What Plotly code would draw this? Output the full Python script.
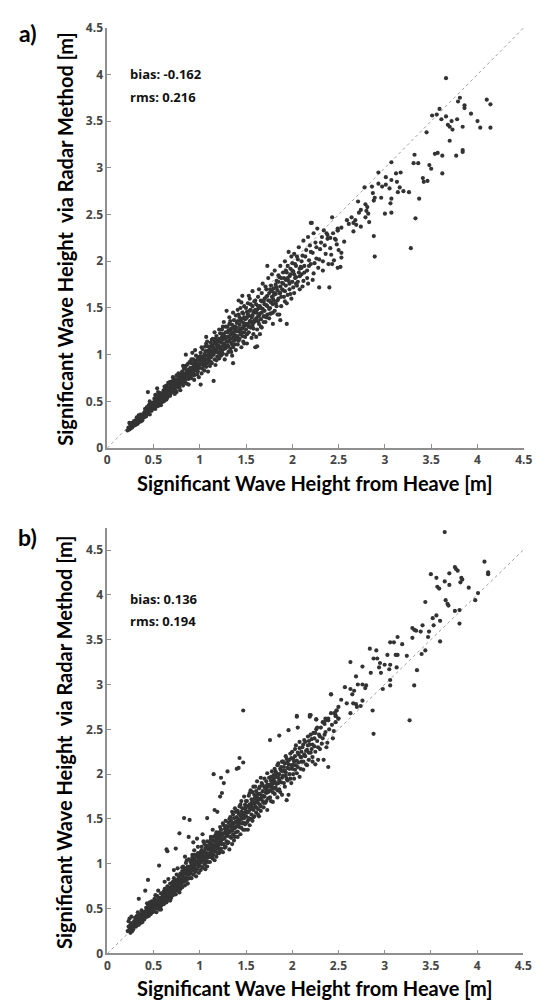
import plotly.graph_objects as go

# ---------------- data: (Hs from heave [m], Hs via radar [m]) ----------------
# Panel a) dense band, low range
a_band_low = [
 (0.22,0.19),(0.23,0.22),(0.24,0.20),(0.25,0.25),(0.25,0.21),(0.26,0.23),(0.27,0.27),(0.27,0.22),(0.28,0.25),(0.29,0.29),(0.29,0.24),(0.24,0.27),
 (0.30,0.26),(0.31,0.30),(0.31,0.27),(0.32,0.33),(0.32,0.29),(0.33,0.31),(0.33,0.26),(0.34,0.35),(0.34,0.30),(0.35,0.28),(0.35,0.33),(0.36,0.31),(0.36,0.36),(0.37,0.34),(0.37,0.29),(0.38,0.36),(0.38,0.32),(0.39,0.35),
 (0.40,0.33),(0.40,0.38),(0.41,0.42),(0.41,0.36),(0.42,0.39),(0.42,0.34),(0.43,0.44),(0.43,0.40),(0.44,0.37),(0.44,0.42),(0.45,0.46),(0.45,0.39),(0.46,0.41),(0.46,0.36),(0.47,0.44),(0.47,0.48),(0.48,0.40),(0.48,0.45),(0.49,0.42),(0.49,0.47),(0.44,0.60),(0.46,0.50),
 (0.50,0.44),(0.50,0.49),(0.51,0.53),(0.51,0.46),(0.52,0.50),(0.52,0.42),(0.53,0.55),(0.53,0.48),(0.54,0.64),(0.54,0.51),(0.55,0.45),(0.55,0.53),(0.56,0.57),(0.56,0.50),(0.57,0.47),(0.57,0.54),(0.58,0.59),(0.58,0.52),(0.59,0.49),(0.59,0.56),(0.55,0.60),(0.52,0.57),(0.58,0.46),(0.54,0.47),
 (0.60,0.53),(0.60,0.58),(0.61,0.62),(0.61,0.55),(0.62,0.60),(0.62,0.51),(0.63,0.64),(0.63,0.57),(0.64,0.59),(0.64,0.67),(0.65,0.54),(0.65,0.61),(0.66,0.63),(0.66,0.57),(0.67,0.69),(0.67,0.60),(0.68,0.65),(0.68,0.56),(0.69,0.62),(0.69,0.67),(0.62,0.66),(0.64,0.52),(0.66,0.70),(0.68,0.71),(0.61,0.50),(0.65,0.65),
 (0.70,0.64),(0.70,0.69),(0.71,0.72),(0.71,0.61),(0.72,0.67),(0.72,0.75),(0.73,0.63),(0.73,0.70),(0.74,0.66),(0.74,0.73),(0.75,0.78),(0.75,0.60),(0.76,0.69),(0.76,0.74),(0.77,0.65),(0.77,0.71),(0.78,0.76),(0.78,0.68),(0.79,0.62),(0.79,0.73),(0.71,0.76),(0.73,0.58),(0.75,0.71),(0.77,0.80),(0.79,0.79),(0.74,0.69),
]
# Panel a) dense band, middle range
a_band_mid = [
 (0.80,0.70),(0.80,0.77),(0.81,0.82),(0.81,0.73),(0.82,0.79),(0.82,0.67),(0.83,0.85),(0.83,0.75),(0.84,0.80),(0.84,0.72),(0.85,0.88),(0.85,1.00),(0.85,0.77),(0.86,0.83),(0.86,0.69),(0.87,0.79),(0.87,0.90),(0.88,0.74),(0.88,0.84),(0.89,0.81),(0.89,0.92),(0.82,0.88),(0.86,0.76),(0.88,0.68),
 (0.90,0.78),(0.90,0.86),(0.91,0.91),(0.91,0.75),(0.92,0.84),(0.92,1.02),(0.93,0.80),(0.93,0.95),(0.94,0.88),(0.94,0.73),(0.95,0.92),(0.95,0.83),(0.96,0.99),(0.96,0.87),(0.97,0.79),(0.97,0.94),(0.98,0.90),(0.98,0.82),(0.99,0.97),(0.99,0.76),(0.93,0.87),(0.96,0.93),
 (1.00,0.86),(1.00,0.94),(1.01,1.02),(1.01,0.68),(1.02,0.90),(1.02,0.80),(1.03,0.97),(1.03,1.06),(1.04,0.88),(1.04,0.93),(1.05,1.00),(1.05,0.83),(1.06,1.09),(1.06,0.95),(1.07,0.87),(1.07,1.12),(1.08,0.99),(1.08,0.91),(1.09,1.04),(1.09,0.82),(1.05,0.92),(1.07,1.19),
 (1.10,0.94),(1.10,1.01),(1.11,1.08),(1.11,0.88),(1.12,1.13),(1.12,0.97),(1.13,1.04),(1.13,0.91),(1.14,1.17),(1.14,1.00),(1.15,0.72),(1.15,1.07),(1.16,0.95),(1.16,1.12),(1.17,1.03),(1.17,0.89),(1.18,1.20),(1.18,1.06),(1.19,0.98),(1.19,1.14),(1.12,1.04),(1.16,1.24),
 (1.20,1.02),(1.20,1.10),(1.21,1.17),(1.21,0.96),(1.22,1.23),(1.22,1.06),(1.23,1.13),(1.23,0.99),(1.24,1.27),(1.24,1.09),(1.25,1.16),(1.25,1.01),(1.26,1.21),(1.26,1.12),(1.27,0.95),(1.27,1.19),(1.28,1.07),(1.28,1.30),(1.29,1.14),(1.29,1.47),(1.23,1.04),(1.26,1.35),
 (1.30,1.10),(1.30,1.19),(1.31,1.26),(1.31,1.03),(1.32,1.15),(1.32,1.33),(1.33,1.21),(1.33,1.06),(1.34,1.28),(1.34,1.13),(1.35,1.24),(1.35,0.99),(1.36,1.18),(1.36,0.91),(1.37,1.37),(1.37,1.22),(1.38,1.11),(1.38,1.30),(1.39,1.16),(1.39,1.42),(1.33,1.36),(1.36,1.08),
 (1.40,1.20),(1.40,1.29),(1.41,1.36),(1.41,1.11),(1.42,1.25),(1.42,1.43),(1.43,1.17),(1.43,1.32),(1.44,1.50),(1.44,1.22),(1.45,1.38),(1.45,1.08),(1.46,1.28),(1.46,1.45),(1.47,1.14),(1.47,1.34),(1.48,1.24),(1.48,1.52),(1.49,1.31),(1.49,1.19),(1.42,1.58),(1.46,1.63),
]
# Panel a) dense band, upper range
a_band_high = [
 (1.50,1.27),(1.50,1.39),(1.51,1.46),(1.51,1.12),(1.52,1.33),(1.52,1.55),(1.53,1.24),(1.53,1.42),(1.54,1.36),(1.54,1.60),(1.55,1.29),(1.55,1.48),(1.56,1.18),(1.56,1.40),(1.57,1.52),(1.57,1.31),(1.58,1.45),(1.58,1.22),(1.59,1.37),(1.59,1.57),
 (1.60,1.36),(1.60,1.08),(1.61,1.45),(1.61,1.54),(1.62,1.27),(1.62,1.09),(1.63,1.41),(1.63,1.62),(1.64,1.33),(1.64,1.50),(1.65,1.22),(1.65,1.44),(1.66,1.58),(1.66,1.38),(1.67,1.66),(1.67,1.29),(1.68,1.49),(1.69,1.41),
 (1.70,1.47),(1.70,1.60),(1.71,1.35),(1.72,1.53),(1.72,1.70),(1.73,1.43),(1.73,1.95),(1.74,1.58),(1.75,1.39),(1.75,1.66),(1.76,1.50),(1.77,1.74),(1.77,1.44),(1.78,1.62),(1.79,1.54),(1.79,1.33),
 (1.80,1.58),(1.80,1.71),(1.81,1.47),(1.82,1.65),(1.83,1.79),(1.83,1.52),(1.84,1.69),(1.85,1.60),(1.86,1.83),(1.86,1.43),(1.87,1.37),(1.87,1.73),(1.88,1.62),(1.89,1.77),
 (1.90,1.69),(1.91,1.82),(1.92,1.57),(1.93,1.74),(1.94,1.33),(1.94,1.88),(1.95,1.64),(1.96,2.10),(1.96,1.79),(1.97,1.70),(1.98,1.92),(1.99,1.60),
 (2.00,1.78),(2.01,1.89),(2.02,1.66),(2.03,1.97),(2.04,1.83),(2.05,1.74),(2.06,2.02),(2.07,1.88),(2.08,1.70),(2.09,1.94),
 (2.10,1.86),(2.11,2.06),(2.12,1.79),(2.13,1.95),(2.15,2.12),(2.16,1.90),(2.17,1.76),(2.18,2.01),(2.19,2.17),
 (2.20,1.97),(2.21,2.41),(2.22,2.09),(2.23,1.87),(2.25,2.20),(2.26,2.03),(2.28,1.93),(2.29,1.72),
 (2.30,2.13),(2.32,2.26),(2.33,2.00),(2.35,2.17),(2.37,2.30),(2.39,1.97),
 (2.40,1.72),(2.42,2.07),(2.43,1.97),(2.46,2.24),(2.49,2.33),(2.52,1.94),(2.49,1.93),(2.53,2.04),
]
# Panel a) further points read from the dark core of the band
a_band_fill = [
 (0.31,0.25),(0.33,0.28),(0.36,0.33),(0.38,0.30),(0.41,0.39),(0.43,0.37),(0.45,0.43),(0.47,0.41),(0.50,0.47),(0.52,0.45),(0.53,0.51),(0.56,0.53),(0.57,0.50),(0.60,0.55),(0.61,0.59),(0.63,0.55),(0.65,0.58),(0.67,0.63),(0.69,0.59),(0.70,0.66),(0.72,0.64),(0.74,0.62),(0.76,0.72),(0.78,0.65),(0.79,0.70),
 (0.81,0.76),(0.83,0.70),(0.84,0.86),(0.87,0.82),(0.89,0.77),(0.90,0.82),(0.91,0.95),(0.92,0.79),(0.94,0.91),(0.95,1.05),(0.97,0.85),(0.98,0.96),(1.00,0.90),(1.01,0.98),(1.02,1.08),(1.03,0.85),(1.04,0.98),(1.06,0.90),(1.07,1.04),(1.08,1.14),
 (1.10,0.98),(1.11,1.05),(1.12,0.92),(1.13,1.16),(1.14,1.09),(1.15,1.00),(1.17,1.17),(1.18,0.94),(1.19,1.09),(1.20,1.15),(1.21,1.27),(1.22,1.01),(1.24,1.19),(1.25,1.30),(1.26,1.06),(1.28,1.24),(1.29,1.00),
 (1.30,1.30),(1.31,1.14),(1.32,1.40),(1.33,1.26),(1.34,1.03),(1.35,1.32),(1.36,1.45),(1.37,1.15),(1.38,1.26),(1.39,1.05),(1.40,1.34),(1.41,1.48),(1.42,1.15),(1.43,1.40),(1.44,1.28),(1.45,1.56),(1.46,1.20),(1.47,1.44),(1.48,1.12),(1.49,1.38),
 (1.50,1.50),(1.51,1.22),(1.52,1.43),(1.53,1.63),(1.54,1.30),(1.55,1.54),(1.56,1.34),(1.57,1.68),(1.58,1.28),(1.59,1.47),(1.60,1.58),(1.61,1.19),(1.62,1.48),(1.63,1.36),(1.64,1.70),(1.65,1.52),(1.66,1.30),(1.67,1.57),(1.68,1.76),(1.69,1.35),
 (1.70,1.54),(1.71,1.73),(1.72,1.40),(1.73,1.63),(1.74,1.82),(1.75,1.49),(1.76,1.70),(1.77,1.56),(1.78,1.86),(1.79,1.45),(1.80,1.64),(1.81,1.90),(1.82,1.55),(1.83,1.72),(1.84,1.43),(1.85,1.85),(1.86,1.66),(1.87,1.95),(1.88,1.52),(1.89,1.70),
 (1.90,1.88),(1.91,1.62),(1.92,2.00),(1.93,1.80),(1.94,1.55),(1.95,1.95),(1.97,1.84),(1.98,1.65),(1.99,2.05),(2.00,1.90),(2.01,1.72),(2.02,2.08),(2.03,1.82),(2.04,1.95),(2.06,1.78),(2.07,2.15),(2.08,1.92),
 (2.10,2.00),(2.11,1.73),(2.12,2.22),(2.13,1.88),(2.14,2.05),(2.16,1.82),(2.17,2.26),(2.18,1.95),(2.20,2.10),(2.22,1.80),(2.23,2.30),(2.24,1.98),(2.26,2.15),(2.27,2.35),(2.29,2.02),
 (2.31,2.20),(2.33,1.90),(2.34,2.33),(2.36,2.08),(2.38,2.24),(2.41,2.14),(2.44,2.30),(2.45,2.01),
]
# Panel a) more points along the centre line of the band
a_band_core = [
 (0.42,0.40),(0.48,0.43),(0.51,0.48),(0.55,0.50),(0.58,0.55),(0.62,0.57),(0.64,0.61),(0.67,0.58),(0.70,0.62),(0.71,0.68),(0.73,0.66),(0.75,0.68),(0.77,0.74),(0.78,0.71),(0.80,0.74),(0.82,0.73),(0.83,0.78),(0.85,0.74),(0.86,0.80),(0.88,0.78),
 (0.90,0.84),(0.91,0.80),(0.93,0.84),(0.94,0.78),(0.95,0.87),(0.97,0.90),(0.99,0.86),(1.00,0.98),(1.02,0.95),(1.03,0.91),(1.05,0.96),(1.06,1.03),(1.08,0.95),(1.09,1.09),(1.10,1.05),(1.12,1.00),(1.13,1.10),(1.15,1.04),(1.16,1.15),(1.18,1.11),
 (1.19,1.03),(1.21,1.08),(1.22,1.14),(1.24,1.04),(1.25,1.22),(1.27,1.10),(1.28,1.17),(1.30,1.24),(1.31,1.09),(1.33,1.17),(1.34,1.22),(1.35,1.11),(1.37,1.29),(1.38,1.20),(1.40,1.25),(1.41,1.19),(1.43,1.26),(1.44,1.36),(1.45,1.24),(1.47,1.30),
 (1.48,1.40),(1.50,1.33),(1.51,1.40),(1.53,1.30),(1.54,1.47),(1.55,1.36),(1.57,1.42),(1.58,1.34),(1.60,1.48),(1.61,1.39),(1.63,1.52),(1.64,1.42),(1.66,1.50),(1.67,1.45),(1.69,1.57),(1.70,1.41),(1.72,1.62),(1.73,1.52),(1.75,1.58),(1.76,1.44),
 (1.78,1.68),(1.79,1.60),(1.81,1.66),(1.82,1.75),(1.84,1.58),(1.85,1.78),(1.87,1.66),(1.88,1.82),(1.90,1.76),(1.92,1.68),(1.93,1.90),(1.95,1.82),(1.97,1.76),(1.98,1.86),(2.00,1.98),(2.02,1.86),(2.04,1.76),(2.05,2.05),(2.08,1.84),(2.10,1.93),
]
# Panel a) scattered high-sea-state points
a_sparse = [
 (3.66,3.96),(3.81,3.75),(3.79,3.71),(3.86,3.67),(3.86,3.64),(4.10,3.73),(4.14,3.68),(4.14,3.43),(4.03,3.43),(4.00,3.50),
 (3.93,3.58),(3.59,3.63),(3.51,3.56),(3.56,3.57),(3.66,3.55),(3.61,3.52),(3.72,3.50),(3.78,3.52),(3.68,3.46),(3.70,3.44),
 (3.73,3.41),(3.84,3.44),(3.45,3.38),(3.70,3.29),(3.54,3.15),(3.57,3.16),(3.62,3.13),(3.77,3.13),(3.84,3.19),(3.84,3.17),
 (3.62,2.94),(3.32,3.14),(3.31,3.05),(3.36,3.05),(3.48,3.03),(3.50,2.99),(3.41,2.89),(3.42,2.85),(3.46,2.86),(3.37,2.67),
 (3.33,2.46),(3.28,2.14),(3.07,3.06),(3.12,2.94),(3.17,2.95),(2.93,2.95),(3.01,2.90),(3.07,2.87),(3.13,2.85),(3.16,2.79),
 (3.20,2.75),(3.26,2.74),(3.14,2.74),(2.86,2.80),(2.93,2.83),(2.97,2.80),(3.01,2.82),(3.05,2.78),(2.78,2.79),(2.87,2.73),
 (2.96,2.68),(2.88,2.65),(2.89,2.68),(3.07,2.67),(3.06,2.62),(3.07,2.52),(3.00,2.51),(2.88,2.27),(2.89,2.05),(2.71,2.64),
 (2.79,2.61),(2.81,2.58),(2.80,2.54),(2.82,2.51),(2.74,2.55),(2.79,2.47),(2.83,2.42),(2.72,2.52),(2.43,2.47),(2.20,2.41),
 (2.59,2.44),(2.64,2.47),(2.66,2.41),(2.69,2.39),(2.61,2.40),(2.68,2.44),(2.49,2.35),(2.53,2.36),(2.49,2.33),(2.66,2.32),
 (2.74,2.37),(2.38,2.28),(2.41,2.25),(2.56,2.21),(2.47,2.23),(2.48,2.18),(2.50,2.12),(2.53,2.09),
]

# Panel b) dense band, low range
b_band_low = [
 (0.22,0.25),(0.23,0.30),(0.23,0.36),(0.24,0.27),(0.25,0.32),(0.25,0.23),(0.26,0.29),(0.26,0.41),(0.27,0.34),(0.28,0.27),(0.28,0.31),(0.29,0.36),(0.24,0.39),(0.27,0.25),
 (0.30,0.33),(0.30,0.40),(0.31,0.36),(0.31,0.30),(0.32,0.42),(0.32,0.35),(0.33,0.38),(0.33,0.46),(0.34,0.32),(0.34,0.40),(0.35,0.37),(0.35,0.44),(0.36,0.34),(0.36,0.41),(0.37,0.48),(0.37,0.38),(0.38,0.43),(0.38,0.35),(0.39,0.40),(0.39,0.46),(0.34,0.61),
 (0.40,0.43),(0.40,0.38),(0.41,0.47),(0.41,0.70),(0.42,0.44),(0.42,0.51),(0.43,0.41),(0.43,0.48),(0.44,0.54),(0.44,0.82),(0.44,0.45),(0.45,0.50),(0.45,0.42),(0.46,0.57),(0.46,0.47),(0.47,0.53),(0.47,0.44),(0.48,0.49),(0.48,0.58),(0.49,0.46),(0.49,0.52),(0.43,0.56),
 (0.50,0.52),(0.50,0.47),(0.51,0.56),(0.51,0.61),(0.52,0.50),(0.52,0.54),(0.53,0.59),(0.53,0.46),(0.54,0.56),(0.54,0.64),(0.55,0.52),(0.55,0.60),(0.56,0.98),(0.56,0.55),(0.56,0.49),(0.57,0.62),(0.57,0.57),(0.58,0.53),(0.58,0.67),(0.59,0.60),(0.59,0.55),(0.52,0.65),(0.55,0.70),(0.58,0.49),
 (0.60,0.58),(0.60,0.64),(0.61,0.69),(0.61,0.55),(0.62,0.62),(0.62,0.72),(0.63,0.59),(0.63,0.66),(0.64,0.70),(0.64,0.57),(0.64,1.16),(0.65,0.63),(0.65,1.14),(0.65,0.75),(0.66,0.67),(0.66,0.60),(0.67,0.72),(0.67,0.64),(0.68,0.78),(0.68,0.69),(0.69,0.62),(0.69,0.74),(0.62,0.80),(0.66,0.83),(0.68,0.59),
 (0.70,0.68),(0.70,0.75),(0.71,0.80),(0.71,0.65),(0.72,0.72),(0.72,0.84),(0.73,0.69),(0.73,0.77),(0.74,1.17),(0.74,0.81),(0.74,0.66),(0.75,0.74),(0.75,0.88),(0.76,0.78),(0.76,0.70),(0.77,0.84),(0.77,0.75),(0.78,1.34),(0.78,0.80),(0.78,0.68),(0.79,0.89),(0.79,0.77),(0.72,0.93),(0.76,0.95),(0.79,0.72),
]
# Panel b) dense band, middle range
b_band_mid = [
 (0.80,0.78),(0.80,0.86),(0.81,0.92),(0.81,0.74),(0.82,0.83),(0.82,0.97),(0.83,1.51),(0.83,0.80),(0.83,0.89),(0.84,0.76),(0.84,0.94),(0.85,0.85),(0.85,1.01),(0.86,0.82),(0.86,0.90),(0.87,0.97),(0.87,0.78),(0.88,1.30),(0.88,0.88),(0.88,1.05),(0.89,0.93),(0.89,1.49),(0.89,0.84),(0.84,1.08),
 (0.90,0.89),(0.90,0.97),(0.91,1.04),(0.91,0.84),(0.92,0.93),(0.92,1.10),(0.93,0.88),(0.93,1.00),(0.94,0.96),(0.94,1.15),(0.95,0.91),(0.95,1.03),(0.96,0.86),(0.96,0.99),(0.97,1.08),(0.97,0.94),(0.98,1.19),(0.98,1.01),(0.99,0.90),(0.99,1.06),(0.93,1.24),(0.97,1.28),
 (1.00,0.98),(1.00,1.06),(1.01,1.13),(1.01,0.93),(1.02,1.02),(1.02,1.19),(1.03,0.96),(1.03,1.09),(1.04,1.05),(1.04,1.25),(1.05,0.99),(1.05,1.14),(1.06,1.08),(1.06,0.94),(1.07,1.20),(1.07,1.03),(1.08,1.51),(1.08,1.11),(1.08,0.97),(1.09,1.16),(1.09,1.07),(1.03,1.33),
 (1.10,1.09),(1.10,1.17),(1.11,1.24),(1.11,1.02),(1.12,1.13),(1.12,1.30),(1.13,1.07),(1.13,1.20),(1.14,1.16),(1.14,1.38),(1.15,2.00),(1.15,1.10),(1.15,1.26),(1.16,1.60),(1.16,1.19),(1.16,1.04),(1.17,1.32),(1.17,1.14),(1.18,1.22),(1.18,1.08),(1.19,1.58),(1.19,1.28),(1.19,1.17),
 (1.20,1.20),(1.20,1.28),(1.21,1.35),(1.21,1.12),(1.22,1.75),(1.22,1.24),(1.22,1.41),(1.23,1.96),(1.23,1.17),(1.23,1.31),(1.24,1.79),(1.24,1.27),(1.25,1.45),(1.25,1.13),(1.26,1.90),(1.26,1.34),(1.26,1.22),(1.27,1.39),(1.27,1.29),(1.28,1.19),(1.28,1.48),(1.29,1.33),(1.29,1.25),
 (1.30,2.03),(1.30,1.31),(1.30,1.39),(1.31,1.46),(1.31,1.24),(1.32,1.16),(1.32,1.35),(1.33,1.52),(1.33,1.42),(1.34,1.29),(1.34,1.48),(1.35,1.37),(1.35,1.58),(1.36,1.33),(1.36,1.44),(1.37,1.26),(1.37,1.51),(1.38,1.40),(1.38,1.62),(1.39,1.35),(1.39,1.47),(1.40,2.06),
 (1.40,1.42),(1.40,1.52),(1.41,1.59),(1.41,1.36),(1.42,2.07),(1.42,1.48),(1.43,2.18),(1.43,1.64),(1.43,1.41),(1.44,1.54),(1.44,1.33),(1.45,1.70),(1.45,1.50),(1.46,1.45),(1.46,1.62),(1.47,2.71),(1.47,2.13),(1.47,1.38),(1.47,1.57),(1.48,1.75),(1.48,1.51),(1.49,1.44),(1.49,1.66),
]
# Panel b) dense band, upper range
b_band_high = [
 (1.50,1.53),(1.50,1.63),(1.51,1.70),(1.51,1.46),(1.52,1.38),(1.52,1.58),(1.53,1.76),(1.53,1.51),(1.54,1.66),(1.54,1.43),(1.55,1.82),(1.55,1.61),(1.56,1.55),(1.56,1.72),(1.57,1.48),(1.57,1.67),(1.58,1.86),(1.58,1.60),(1.59,1.53),(1.59,1.77),
 (1.60,1.64),(1.60,1.74),(1.61,1.81),(1.61,1.57),(1.62,1.69),(1.62,1.92),(1.63,1.61),(1.63,1.78),(1.64,1.53),(1.64,1.72),(1.65,1.86),(1.65,1.66),(1.66,1.96),(1.66,1.59),(1.67,1.76),(1.68,1.70),(1.68,1.88),(1.69,1.63),
 (1.70,1.75),(1.70,1.85),(1.71,1.68),(1.72,1.92),(1.72,1.79),(1.73,1.60),(1.73,2.01),(1.74,1.73),(1.75,1.88),(1.76,2.38),(1.76,1.82),(1.77,1.70),(1.77,1.97),(1.78,1.85),(1.79,1.69),(1.79,1.91),
 (1.80,1.84),(1.80,1.95),(1.81,1.78),(1.82,2.03),(1.83,1.89),(1.84,1.74),(1.84,2.10),(1.85,1.96),(1.86,2.43),(1.86,1.83),(1.87,2.06),(1.88,1.91),(1.89,1.77),(1.89,2.14),
 (1.90,1.98),(1.91,2.08),(1.92,1.86),(1.93,2.02),(1.94,1.71),(1.94,2.17),(1.95,1.93),(1.96,1.77),(1.96,2.49),(1.96,2.11),(1.97,2.00),(1.98,2.23),(1.99,1.90),
 (2.00,2.06),(2.01,2.17),(2.02,1.95),(2.03,2.28),(2.04,2.10),(2.05,2.65),(2.05,2.01),(2.06,2.52),(2.06,2.24),(2.07,2.13),(2.08,1.97),(2.09,2.19),
 (2.10,2.14),(2.11,2.30),(2.12,2.05),(2.13,2.22),(2.14,2.36),(2.15,2.11),(2.16,2.27),(2.17,2.42),(2.18,2.16),(2.19,2.64),(2.19,2.33),
 (2.20,2.66),(2.20,2.24),(2.21,2.39),(2.22,2.19),(2.23,2.46),(2.24,2.31),(2.25,2.11),(2.26,2.61),(2.26,2.50),(2.27,2.37),(2.28,2.16),(2.29,2.44),
 (2.30,2.28),(2.31,2.52),(2.33,2.40),(2.34,2.16),(2.35,2.56),(2.36,2.47),(2.36,2.62),(2.38,2.35),(2.39,2.08),(2.39,2.60),
 (2.42,2.89),(2.43,2.55),(2.45,2.48),(2.47,2.65),(2.48,2.71),(2.46,2.68),(2.50,2.62),(2.47,2.58),
]
# Panel b) further points read from the dark core of the band
b_band_fill = [
 (0.26,0.33),(0.29,0.30),(0.31,0.39),(0.33,0.34),(0.35,0.41),(0.37,0.36),(0.38,0.45),(0.40,0.46),(0.42,0.41),(0.44,0.49),(0.45,0.55),(0.47,0.48),(0.49,0.55),(0.50,0.58),(0.52,0.57),(0.53,0.52),
 (0.55,0.57),(0.57,0.52),(0.58,0.61),(0.60,0.67),(0.61,0.62),(0.63,0.71),(0.64,0.64),(0.66,0.71),(0.67,0.67),(0.69,0.78),(0.70,0.71),(0.72,0.78),(0.73,0.73),(0.75,0.80),(0.77,0.71),(0.78,0.86),
 (0.80,0.82),(0.81,0.96),(0.82,0.88),(0.84,0.82),(0.85,0.95),(0.86,1.04),(0.87,0.88),(0.88,0.96),(0.90,1.02),(0.91,0.92),(0.92,1.07),(0.93,0.95),(0.94,1.02),(0.95,1.10),(0.96,0.93),(0.97,1.03),(0.98,1.12),(0.99,0.97),
 (1.00,1.10),(1.01,1.02),(1.02,1.15),(1.03,1.04),(1.04,1.12),(1.05,1.22),(1.06,1.01),(1.07,1.12),(1.08,1.25),(1.09,1.02),(1.10,1.21),(1.11,1.12),(1.12,1.27),(1.13,1.15),(1.14,1.06),(1.15,1.30),(1.16,1.14),(1.17,1.25),(1.18,1.35),(1.19,1.12),
 (1.20,1.32),(1.21,1.22),(1.22,1.15),(1.23,1.38),(1.24,1.22),(1.25,1.33),(1.26,1.43),(1.27,1.18),(1.28,1.36),(1.29,1.42),(1.30,1.23),(1.31,1.35),(1.32,1.50),(1.33,1.30),(1.34,1.41),(1.35,1.22),(1.36,1.55),(1.37,1.40),(1.38,1.30),(1.39,1.58),
 (1.40,1.47),(1.41,1.30),(1.42,1.56),(1.43,1.46),(1.44,1.66),(1.45,1.40),(1.46,1.54),(1.47,1.46),(1.48,1.62),(1.49,1.38),
 (1.50,1.70),(1.51,1.57),(1.52,1.48),(1.53,1.65),(1.54,1.79),(1.55,1.50),(1.56,1.64),(1.57,1.80),(1.58,1.52),(1.59,1.68),(1.60,1.86),(1.61,1.63),(1.62,1.76),(1.63,1.55),(1.64,1.84),(1.65,1.72),(1.66,1.64),(1.67,1.90),(1.68,1.76),(1.69,1.68),
 (1.70,1.95),(1.71,1.80),(1.72,1.70),(1.73,1.88),(1.74,1.80),(1.75,1.96),(1.76,1.74),(1.77,1.89),(1.78,2.03),(1.79,1.80),(1.80,1.90),(1.81,2.06),(1.82,1.85),(1.83,1.97),(1.84,1.82),(1.85,2.12),(1.86,1.93),(1.87,1.80),(1.88,2.04),(1.89,1.96),
 (1.90,2.14),(1.91,1.90),(1.92,2.04),(1.93,2.20),(1.94,1.95),(1.95,2.07),(1.97,2.16),(1.98,1.95),(1.99,2.10),(2.00,2.25),(2.01,2.00),(2.02,2.14),(2.03,2.05),(2.04,2.32),(2.06,2.08),(2.07,2.22),(2.08,2.36),(2.09,2.06),
 (2.10,2.25),(2.12,2.14),(2.13,2.38),(2.14,2.20),(2.16,2.10),(2.17,2.32),(2.18,2.24),(2.20,2.44),(2.21,2.28),(2.22,2.14),(2.24,2.40),(2.25,2.25),(2.27,2.52),(2.28,2.30),
 (2.30,2.42),(2.32,2.34),(2.33,2.58),(2.35,2.44),(2.37,2.30),(2.40,2.50),(2.42,2.68),(2.44,2.40),
]
# Panel b) more points along the centre line of the band
b_band_core = [
 (0.42,0.47),(0.46,0.52),(0.51,0.52),(0.54,0.59),(0.57,0.60),(0.60,0.62),(0.62,0.66),(0.64,0.68),(0.66,0.65),(0.68,0.73),(0.70,0.73),(0.71,0.77),(0.73,0.80),(0.74,0.76),(0.76,0.82),(0.78,0.77),(0.79,0.84),(0.81,0.86),(0.82,0.80),(0.84,0.89),
 (0.85,0.92),(0.87,0.93),(0.88,0.92),(0.90,0.94),(0.91,0.99),(0.93,0.97),(0.94,1.06),(0.96,1.02),(0.97,0.99),(0.99,1.09),(1.00,1.02),(1.02,1.08),(1.03,1.13),(1.05,1.07),(1.06,1.17),(1.08,1.07),(1.09,1.11),(1.11,1.18),(1.12,1.10),(1.14,1.22),
 (1.15,1.17),(1.17,1.20),(1.18,1.28),(1.20,1.24),(1.21,1.30),(1.23,1.26),(1.24,1.34),(1.26,1.28),(1.27,1.34),(1.29,1.38),(1.30,1.35),(1.32,1.42),(1.33,1.37),(1.35,1.45),(1.36,1.39),(1.38,1.46),(1.39,1.41),(1.41,1.50),(1.42,1.44),(1.44,1.50),
 (1.45,1.58),(1.47,1.52),(1.48,1.56),(1.50,1.59),(1.51,1.64),(1.53,1.58),(1.54,1.62),(1.56,1.68),(1.57,1.62),(1.59,1.72),(1.60,1.68),(1.62,1.73),(1.63,1.68),(1.65,1.78),(1.66,1.73),(1.68,1.81),(1.69,1.75),(1.71,1.86),(1.72,1.83),(1.74,1.86),
 (1.75,1.81),(1.77,1.93),(1.78,1.88),(1.80,1.99),(1.81,1.92),(1.83,2.01),(1.85,1.90),(1.86,2.00),(1.88,2.08),(1.90,2.03),(1.92,2.12),(1.93,1.98),(1.95,2.14),(1.97,2.06),(1.99,2.18),(2.01,2.10),(2.03,2.20),(2.05,2.15),(2.08,2.29),(2.10,2.19),
 (2.12,2.33),(2.15,2.26),(2.18,2.37),(2.22,2.33),(2.25,2.46),
]
# Panel b) scattered high-sea-state points
b_sparse = [
 (3.65,4.70),(4.08,4.37),(4.12,4.25),(4.12,4.23),(3.76,4.31),(3.77,4.29),(3.79,4.27),(3.70,4.24),(3.83,4.19),(3.84,4.17),
 (3.82,4.14),(3.65,4.15),(3.70,4.11),(3.57,4.09),(3.59,4.07),(3.50,4.23),(3.56,4.19),(3.91,4.08),(4.01,4.02),(3.98,3.94),
 (3.44,3.92),(3.66,3.94),(3.68,3.90),(3.69,3.88),(3.76,3.82),(3.81,3.83),(3.81,3.68),(3.52,3.74),(3.56,3.77),(3.60,3.71),
 (3.53,3.66),(3.41,3.66),(3.48,3.59),(3.47,3.53),(3.60,3.48),(3.30,3.63),(3.32,3.61),(3.34,3.60),(3.39,3.59),(3.14,3.53),
 (3.30,3.52),(3.06,3.47),(3.10,3.47),(3.19,3.45),(3.44,3.38),(3.40,3.34),(2.84,3.40),(2.91,3.38),(3.03,3.33),(3.12,3.33),
 (3.14,3.33),(2.88,3.29),(2.92,3.29),(3.24,3.32),(2.63,3.25),(2.95,3.24),(3.00,3.22),(2.94,3.19),(3.06,3.22),(3.05,3.17),
 (2.76,3.20),(3.13,3.19),(2.85,3.13),(2.96,3.13),(3.35,3.16),(2.69,3.09),(3.06,3.05),(3.06,2.99),(3.32,2.99),(2.57,2.97),
 (2.63,2.95),(2.71,3.00),(2.76,3.00),(2.80,2.99),(2.79,2.96),(2.98,2.95),(2.42,2.89),(2.65,2.89),(2.67,2.93),(2.53,2.83),
 (2.59,2.79),(2.66,2.79),(2.69,2.78),(2.76,2.82),(2.74,2.76),(2.50,2.75),(2.48,2.71),(2.46,2.68),(2.47,2.65),(2.50,2.62),
 (2.87,2.71),(2.63,2.68),(2.70,2.75),(2.05,2.64),(2.19,2.66),(2.26,2.61),(2.36,2.60),(2.39,2.62),(3.27,2.60),(2.88,2.45),
]

x_ticks = [0, 0.5, 1, 1.5, 2, 2.5, 3, 3.5, 4, 4.5]
tick_text = ["0", "0.5", "1", "1.5", "2", "2.5", "3", "3.5", "4", "4.5"]
one_to_one = [0, 4.5]
stats_a = ["bias: -0.162", "rms: 0.216"]
stats_b = ["bias: 0.136", "rms: 0.194"]
x_title = "Significant Wave Height from Heave [m]"
y_title = "Significant Wave Height\u00a0 via Radar Method [m]"

# ---------------- figure ----------------
W, H = 545, 1007
PT = "#333333"
AX = "#8f8f8f"

fig = go.Figure()

def add_panel(fig, groups, xa, ya):
    xs, ys = [], []
    for g in groups:
        for p in g:
            xs.append(p[0]); ys.append(p[1])
    fig.add_trace(go.Scatter(x=one_to_one, y=one_to_one, mode="lines",
                             line=dict(color="#a0a0a0", width=1, dash="dot"),
                             xaxis=xa, yaxis=ya, hoverinfo="skip", showlegend=False))
    fig.add_trace(go.Scatter(x=xs, y=ys, mode="markers",
                             marker=dict(color=PT, size=4.2, line=dict(width=0)),
                             xaxis=xa, yaxis=ya, showlegend=False))

add_panel(fig, [a_band_low, a_band_mid, a_band_high, a_band_fill, a_band_core, a_sparse], "x", "y")
add_panel(fig, [b_band_low, b_band_mid, b_band_high, b_band_fill, b_band_core, b_sparse], "x2", "y2")

def px_x(p): return p / W
def px_y(p): return 1 - p / H

tickfont = dict(family="Open Sans", size=12, color="#454545", weight="bold")
axis_common = dict(showline=True, linecolor=AX, linewidth=1.5, ticks="inside",
                   ticklen=4, tickwidth=1, tickcolor=AX, showgrid=False,
                   zeroline=False, tickfont=tickfont, mirror=False,
                   tickmode="array", tickvals=x_ticks, ticktext=tick_text)

fig.update_layout(
    width=W, height=H, autosize=False,
    margin=dict(l=0, r=0, t=0, b=0),
    paper_bgcolor="white", plot_bgcolor="white",
    xaxis=dict(domain=[px_x(106.5), px_x(532.5)], range=[0, 4.5], anchor="y", **axis_common),
    yaxis=dict(domain=[px_y(446.7), px_y(19)], range=[0, 4.5], anchor="x", **axis_common),
    xaxis2=dict(domain=[px_x(106.7), px_x(532.0)], range=[0, 4.5], anchor="y2", **axis_common),
    yaxis2=dict(domain=[px_y(960.7), px_y(527.5)], range=[0, 4.75], anchor="x2", **axis_common),
)

title_font = dict(family="Lato", size=20, color="#000000", weight="bold")
stat_font = dict(family="Open Sans", size=13, color="#111111", weight="bold")
label_font = dict(family="Lato", size=23, color="#000000", weight="bold")

ann = []
for yy in (482, 996):
    ann.append(dict(text=x_title, x=px_x(319), y=px_y(yy), xref="paper", yref="paper",
                    showarrow=False, font=title_font, xanchor="center", yanchor="middle"))
for yy in (234, 746):
    ann.append(dict(text=y_title, x=px_x(63), y=px_y(yy), xref="paper", yref="paper",
                    showarrow=False, font=title_font, textangle=-90, xanchor="center", yanchor="middle"))
ann.append(dict(text="a)", x=px_x(14), y=px_y(24), xref="paper", yref="paper",
                showarrow=False, font=label_font, xanchor="left", yanchor="middle"))
ann.append(dict(text="b)", x=px_x(13), y=px_y(537), xref="paper", yref="paper",
                showarrow=False, font=label_font, xanchor="left", yanchor="middle"))
for i, s in enumerate(stats_a):
    ann.append(dict(text=s, x=px_x(128), y=px_y(66 + 24 * i), xref="paper", yref="paper",
                    showarrow=False, font=stat_font, xanchor="left", yanchor="middle"))
for i, s in enumerate(stats_b):
    ann.append(dict(text=s, x=px_x(128), y=px_y(600 + 23 * i), xref="paper", yref="paper",
                    showarrow=False, font=stat_font, xanchor="left", yanchor="middle"))
fig.update_layout(annotations=ann)

fig.write_html("out.html", config={"displayModeBar": False})
